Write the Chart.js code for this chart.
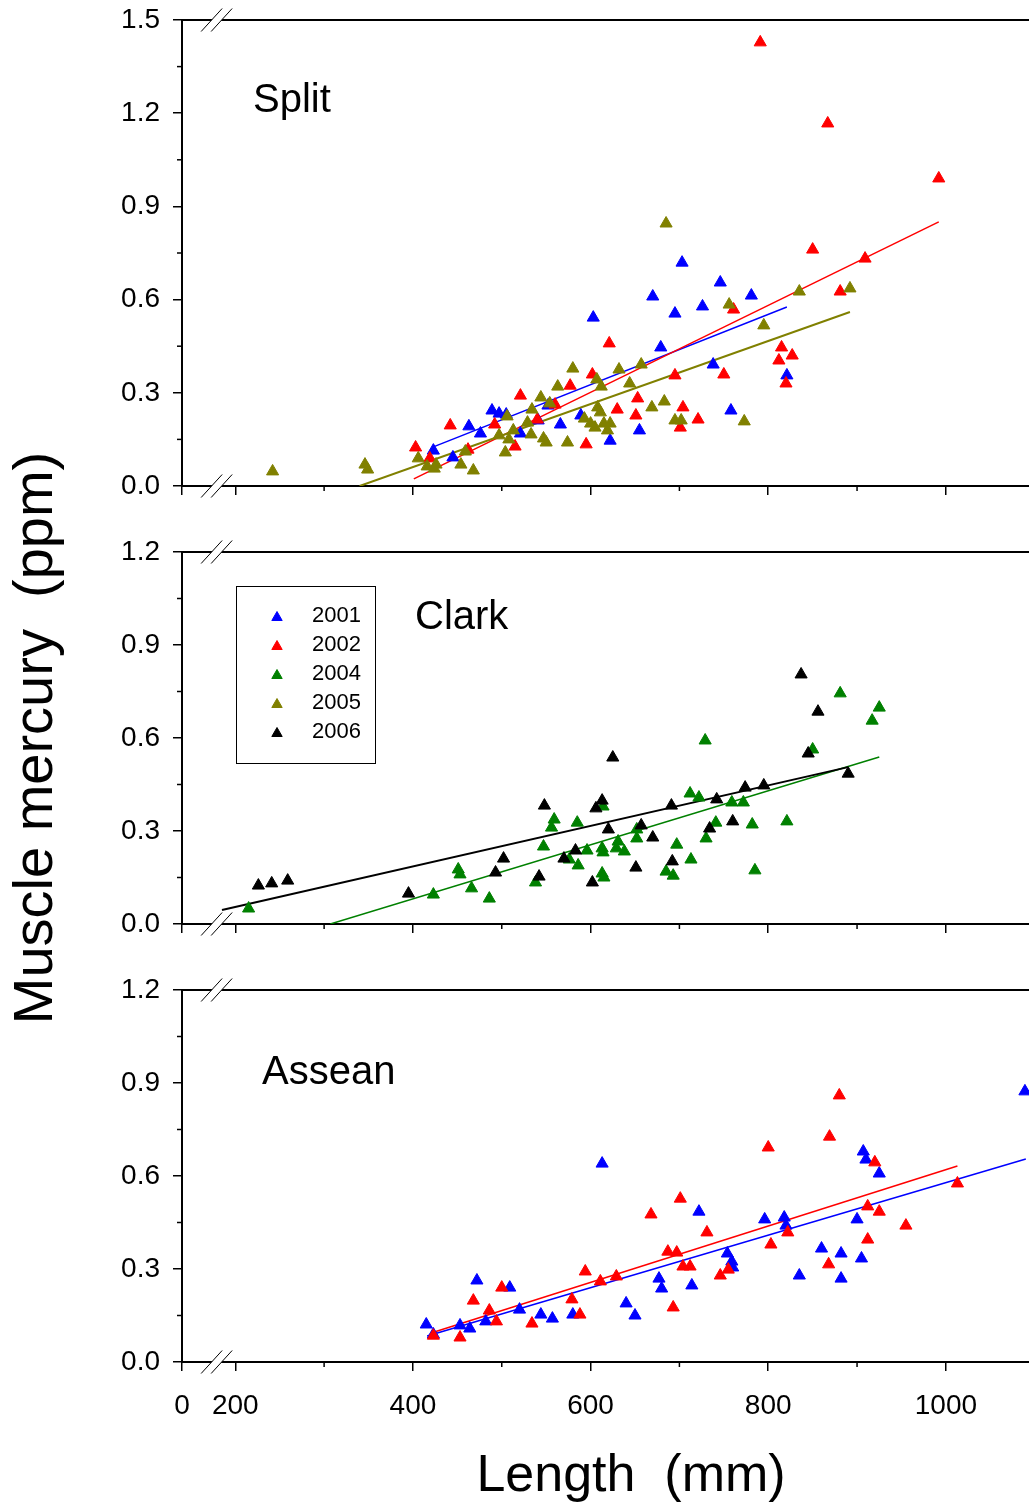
<!DOCTYPE html>
<html>
<head>
<meta charset="utf-8">
<script src="https://cdn.jsdelivr.net/npm/chart.js@4.4.0/dist/chart.umd.min.js"></script>
<style>
  html, body { margin: 0; padding: 0; background: #fff; overflow: hidden; width: 1029px; height: 1508px; }
  .panel { position: absolute; left: 0; width: 1080px; }
</style>
</head>
<body>
<div class="panel" style="top:0;height:520px"><canvas id="split" width="1080" height="520"></canvas></div>
<div class="panel" style="top:0;height:1508px"><canvas id="clark" width="1080" height="1508"></canvas></div>
<div class="panel" style="top:960px;height:548px"><canvas id="assean" width="1080" height="548"></canvas></div>
<script>
// axes
const X_MIN = 140
const X_MAX = 1151
const BREAK_MM = 179
const xTickValues = [140, 200, 400, 600, 800, 1000]
const xTickLabels = ['0', '200', '400', '600', '800', '1000']
const xMinorTicks = [300, 500, 700, 900, 1100]
const yTicksSplit = [0, 0.3, 0.6, 0.9, 1.2, 1.5]
const yMinorSplit = [0.15, 0.45, 0.75, 1.05, 1.35]
const yTicks = [0, 0.3, 0.6, 0.9, 1.2]
const yMinor = [0.15, 0.45, 0.75, 1.05]
const years = ['2001', '2002', '2004', '2005', '2006']

// Split lake, [length mm, Hg ppm]
const split2001 = [[423,0.114],[445,0.092],[463,0.192],[476,0.169],[489,0.243],[497,0.233],[505,0.230],[521,0.169],[541,0.211],[552,0.259],[566,0.198],[589,0.227],[603,0.542],[622,0.146],[655,0.179],[670,0.610],[679,0.446],[695,0.555],[703,0.719],[726,0.578],[738,0.391],[746,0.655],[758,0.243],[781,0.613],[821,0.356]]
const split2002 = [[403,0.124],[419,0.089],[442,0.195],[462,0.117],[492,0.198],[515,0.127],[521,0.291],[540,0.214],[560,0.262],[577,0.323],[595,0.134],[602,0.359],[621,0.459],[630,0.246],[651,0.227],[653,0.282],[695,0.356],[701,0.188],[704,0.253],[721,0.214],[750,0.359],[761,0.568],[791,1.428],[812,0.404],[815,0.446],[820,0.330],[827,0.420],[850,0.761],[867,1.167],[881,0.626],[909,0.732],[992,0.990]]
const split2005 = [[242,0.047],[346,0.069],[349,0.053],[406,0.089],[416,0.063],[426,0.069],[424,0.056],[454,0.069],[459,0.111],[468,0.050],[497,0.163],[504,0.108],[506,0.224],[508,0.150],[513,0.179],[529,0.204],[533,0.166],[534,0.246],[544,0.285],[547,0.153],[550,0.140],[554,0.266],[563,0.320],[574,0.140],[580,0.378],[593,0.217],[600,0.201],[605,0.188],[607,0.343],[608,0.253],[611,0.237],[612,0.320],[615,0.201],[619,0.179],[622,0.201],[632,0.375],[644,0.330],[657,0.391],[669,0.253],[683,0.272],[685,0.845],[695,0.211],[702,0.211],[756,0.584],[773,0.208],[795,0.517],[835,0.626],[892,0.636]]
const splitFit2001 = [[423,0.126],[821,0.576]]
const splitFit2002 = [[401,0.023],[992,0.850]]
const splitFit2005 = [[340,0],[892,0.560]]

// Clark lake
const clark2004 = [[215,0.050],[423,0.095],[451,0.176],[453,0.160],[466,0.115],[486,0.082],[538,0.134],[547,0.250],[556,0.311],[559,0.337],[576,0.208],[585,0.327],[586,0.189],[596,0.237],[613,0.244],[614,0.231],[614,0.379],[613,0.163],[615,0.150],[629,0.244],[631,0.266],[638,0.234],[652,0.305],[652,0.276],[685,0.169],[693,0.156],[697,0.256],[712,0.421],[713,0.208],[722,0.408],[729,0.592],[730,0.276],[741,0.327],[759,0.392],[772,0.392],[782,0.321],[785,0.173],[821,0.331],[850,0.563],[881,0.744],[917,0.656],[925,0.698]]
const clark2006 = [[226,0.124],[241,0.131],[259,0.140],[395,0.098],[493,0.166],[502,0.211],[542,0.153],[548,0.382],[570,0.211],[583,0.237],[602,0.134],[606,0.373],[613,0.398],[620,0.305],[625,0.537],[651,0.182],[657,0.318],[670,0.279],[691,0.382],[692,0.202],[734,0.308],[742,0.402],[760,0.331],[774,0.440],[795,0.447],[837,0.805],[845,0.550],[856,0.685],[890,0.485]]
const clarkFit2004 = [[307,0],[925,0.539]]
const clarkFit2006 = [[185,0.045],[890,0.506]]

// Assean lake
const assean2001 = [[415,0.121],[423,0.089],[453,0.118],[464,0.108],[472,0.263],[482,0.131],[509,0.240],[520,0.169],[544,0.153],[557,0.140],[580,0.153],[613,0.640],[640,0.189],[650,0.150],[677,0.269],[680,0.237],[714,0.247],[722,0.485],[754,0.350],[759,0.324],[760,0.305],[796,0.460],[818,0.466],[820,0.440],[835,0.279],[860,0.366],[882,0.350],[882,0.269],[900,0.460],[905,0.334],[907,0.679],[910,0.653],[925,0.608],[1089,0.873]]
const assean2002 = [[423,0.085],[453,0.079],[468,0.198],[486,0.166],[494,0.131],[500,0.240],[534,0.124],[579,0.202],[588,0.153],[594,0.292],[611,0.260],[629,0.276],[668,0.476],[687,0.356],[697,0.353],[693,0.176],[701,0.527],[704,0.308],[712,0.308],[731,0.418],[746,0.279],[755,0.298],[800,0.692],[803,0.379],[822,0.418],[868,0.315],[869,0.727],[880,0.860],[912,0.502],[912,0.395],[920,0.644],[925,0.485],[955,0.440],[1013,0.576]]
const asseanFit2001 = [[416,0.084],[1090,0.655]]
const asseanFit2002 = [[424,0.097],[1013,0.632]]

const FONT = "'Liberation Sans', Arial, sans-serif"
const colors = { '2001': '#0000ff', '2002': '#ff0000', '2004': '#008000', '2005': '#808000', '2006': '#000000' }

function pts(arr) {
  return arr.map(([x, y]) => ({ x, y }))
}

function scatterSet(year, arr) {
  return {
    label: year,
    data: pts(arr),
    pointStyle: 'triangle',
    pointRadius: 7,
    borderWidth: 1,
    backgroundColor: colors[year],
    borderColor: colors[year],
  }
}

function fitSet(year, arr, width) {
  return {
    label: year + ' fit',
    data: pts(arr),
    showLine: true,
    pointRadius: 0,
    borderWidth: width,
    borderColor: colors[year],
    fill: false,
  }
}

function line(ctx, x1, y1, x2, y2) {
  ctx.beginPath()
  ctx.moveTo(x1, y1)
  ctx.lineTo(x2, y2)
  ctx.stroke()
}

// frame top, minor ticks, axis breaks, panel name, legend
const decor = {
  id: 'decor',
  afterDraw(chart, args, o) {
    const { ctx, chartArea: a } = chart
    const x = chart.scales.x
    const y = chart.scales.y
    ctx.save()
    ctx.strokeStyle = '#000'
    ctx.lineWidth = 2
    line(ctx, a.left, a.top, a.right, a.top)

    ctx.lineWidth = 1.5
    xMinorTicks.forEach((v) => {
      const px = x.getPixelForValue(v)
      line(ctx, px, a.bottom, px, a.bottom + 5)
    })
    o.yMinor.forEach((v) => {
      const py = y.getPixelForValue(v)
      line(ctx, a.left - 5, py, a.left, py)
    })

    const bx = x.getPixelForValue(BREAK_MM)
    const dx = 10.5, dy = 11.5, k = 3 * dx / dy
    ;[a.top, a.bottom].forEach((by) => {
      ctx.fillStyle = '#fff'
      ctx.beginPath()
      ctx.moveTo(bx - 5 - k, by + 3)
      ctx.lineTo(bx - 5 + k, by - 3)
      ctx.lineTo(bx + 5 + k, by - 3)
      ctx.lineTo(bx + 5 - k, by + 3)
      ctx.closePath()
      ctx.fill()
      ctx.lineWidth = 1
      line(ctx, bx - 5 - dx, by + dy, bx - 5 + dx, by - dy)
      line(ctx, bx + 5 - dx, by + dy, bx + 5 + dx, by - dy)
    })

    ctx.fillStyle = '#000'
    ctx.font = '40px ' + FONT
    ctx.textAlign = 'left'
    ctx.textBaseline = 'alphabetic'
    ctx.fillText(o.label, o.labelX, a.top + o.labelDy)

    if (o.legend) {
      const top = a.top + 34
      ctx.lineWidth = 1
      ctx.strokeStyle = '#000'
      ctx.strokeRect(236.5, top + 0.5, 139, 177)
      ctx.font = '22px ' + FONT
      ctx.textBaseline = 'middle'
      years.forEach((yr, i) => {
        const cy = top + 30 + i * 29
        ctx.fillStyle = colors[yr]
        ctx.strokeStyle = colors[yr]
        Chart.helpers.drawPoint(ctx, { pointStyle: 'triangle', radius: 6, borderWidth: 1 }, 277, cy + 1.5)
        ctx.fillStyle = '#000'
        ctx.fillText(yr, 312, cy)
      })
    }
    ctx.restore()
  },
}

function makePanel(id, cfg) {
  const tickFont = { family: FONT, size: 28 }
  new Chart(document.getElementById(id), {
    type: 'scatter',
    data: { datasets: cfg.datasets },
    options: {
      responsive: false,
      animation: false,
      events: [],
      layout: {
        autoPadding: false,
        padding: { top: cfg.padTop, left: 0, right: 0, bottom: cfg.padBottom || 0 },
      },
      plugins: {
        legend: { display: false },
        tooltip: { enabled: false },
        decor: cfg.decor,
      },
      scales: {
        x: {
          type: 'linear',
          min: X_MIN,
          max: X_MAX,
          afterBuildTicks: (s) => { s.ticks = xTickValues.map((v) => ({ value: v })) },
          afterFit: (s) => {
            s.height = cfg.xHeight
            s.paddingLeft = 0
            s.paddingRight = 0
          },
          ticks: {
            display: cfg.xLabels,
            autoSkip: false,
            maxRotation: 0,
            padding: 18,
            color: '#000',
            font: tickFont,
            callback: (v, i) => xTickLabels[i],
          },
          grid: { drawOnChartArea: false, tickLength: 9, color: '#000', lineWidth: 1.5 },
          border: { color: '#000', width: 2 },
          title: {
            display: cfg.xLabels,
            text: 'Length  (mm)',
            color: '#000',
            font: { family: FONT, size: 52 },
            padding: { top: 6, bottom: 0 },
          },
        },
        y: {
          type: 'linear',
          min: 0,
          max: cfg.yTicks[cfg.yTicks.length - 1],
          afterBuildTicks: (s) => { s.ticks = cfg.yTicks.map((v) => ({ value: v })) },
          afterFit: (s) => {
            s.width = 182
            s.paddingTop = 0
            s.paddingBottom = 0
          },
          ticks: {
            padding: 13,
            color: '#000',
            font: tickFont,
            callback: (v) => v.toFixed(1),
          },
          grid: { drawOnChartArea: false, tickLength: 9, color: '#000', lineWidth: 1.5 },
          border: { color: '#000', width: 2 },
          title: {
            display: !!cfg.yTitle,
            text: cfg.yTitle || '',
            color: '#000',
            font: { family: FONT, size: 56 },
            padding: { top: 3, bottom: 0 },
          },
        },
      },
    },
    plugins: [decor],
  })
}

makePanel('split', {
  padTop: 20,
  xHeight: 34,
  xLabels: false,
  yTicks: yTicksSplit,
  decor: { yMinor: yMinorSplit, label: 'Split', labelX: 253, labelDy: 92 },
  datasets: [
    scatterSet('2005', split2005),
    scatterSet('2002', split2002),
    scatterSet('2001', split2001),
    fitSet('2005', splitFit2005, 2),
    fitSet('2002', splitFit2002, 1.5),
    fitSet('2001', splitFit2001, 1.5),
  ],
})

makePanel('clark', {
  padTop: 552,
  padBottom: 548,
  xHeight: 36,
  xLabels: false,
  yTicks: yTicks,
  yTitle: 'Muscle mercury  (ppm)',
  decor: { yMinor: yMinor, label: 'Clark', labelX: 415, labelDy: 77, legend: true },
  datasets: [
    scatterSet('2006', clark2006),
    scatterSet('2004', clark2004),
    fitSet('2006', clarkFit2006, 2),
    fitSet('2004', clarkFit2004, 1.5),
  ],
})

makePanel('assean', {
  padTop: 30,
  xHeight: 146,
  xLabels: true,
  yTicks: yTicks,
  decor: { yMinor: yMinor, label: 'Assean', labelX: 262, labelDy: 94 },
  datasets: [
    scatterSet('2002', assean2002),
    scatterSet('2001', assean2001),
    fitSet('2002', asseanFit2002, 1.5),
    fitSet('2001', asseanFit2001, 1.5),
  ],
})
</script>
</body>
</html>
